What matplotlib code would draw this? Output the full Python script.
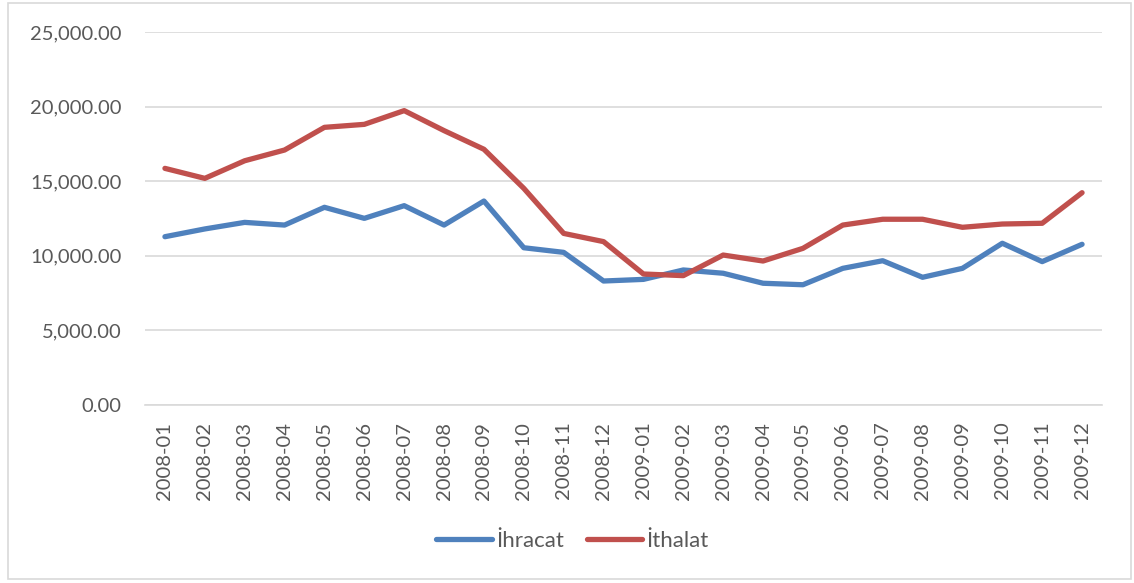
import matplotlib
matplotlib.use("Agg")
import matplotlib.pyplot as plt
from matplotlib.patches import Rectangle
from matplotlib.ticker import FuncFormatter

# monthly values
months = ["2008-01", "2008-02", "2008-03", "2008-04", "2008-05", "2008-06",
          "2008-07", "2008-08", "2008-09", "2008-10", "2008-11", "2008-12",
          "2009-01", "2009-02", "2009-03", "2009-04", "2009-05", "2009-06",
          "2009-07", "2009-08", "2009-09", "2009-10", "2009-11", "2009-12"]
ihracat = [11280, 11800, 12240, 12060, 13250, 12510, 13360, 12060, 13670, 10540, 10230, 8310,
           8420, 9050, 8830, 8160, 8060, 9160, 9670, 8560, 9160, 10840, 9610, 10770]
ithalat = [15860, 15190, 16370, 17090, 18610, 18810, 19730, 18390, 17140, 14520, 11500, 10950,
           8780, 8670, 10050, 9650, 10500, 12060, 12450, 12450, 11910, 12130, 12180, 14230]

text_col = "#595959"
grid_col = "#D9D9D9"
plt.rcParams["font.family"] = ["Lato", "DejaVu Sans"]

fig = plt.figure(figsize=(11.34, 5.83), dpi=100)
ax = fig.add_axes([145 / 1134, 1 - 405 / 583, (1102 - 145) / 1134, (405 - 32) / 583])

x = list(range(len(months)))
ax.plot(x, ihracat, color="#4F81BD", lw=3.8, solid_capstyle="round", label="İhracat")
ax.plot(x, ithalat, color="#C0504D", lw=3.8, solid_capstyle="round", label="İthalat")

ax.set_xlim(-0.5, len(months) - 0.5)
ax.set_ylim(0, 25000)
ax.set_yticks(range(0, 25001, 5000))
ax.yaxis.set_major_formatter(FuncFormatter(lambda v, p: f"{v:,.2f}"))
ax.set_xticks(x)
ax.set_xticklabels(months, rotation=90)
ax.grid(axis="y", color=grid_col, lw=1.2)
ax.set_axisbelow(True)
for s in ["top", "right", "left"]:
    ax.spines[s].set_visible(False)
ax.spines["bottom"].set_color(grid_col)
ax.spines["bottom"].set_linewidth(1.2)
ax.tick_params(axis="both", length=0, colors=text_col, labelsize=14.5)
ax.tick_params(axis="y", pad=17)
ax.tick_params(axis="x", pad=12)

leg = fig.legend(loc="center", bbox_to_anchor=(0.505, 1 - 541 / 583), ncol=2, frameon=False,
                 fontsize=16, handlelength=2.5, handletextpad=0.2, columnspacing=1.0)
for t in leg.get_texts():
    t.set_color(text_col)

# outer chart border
fig.patches.append(Rectangle((8 / 1134, 1 - 579 / 583), (1131 - 8) / 1134, (579 - 3) / 583,
                             transform=fig.transFigure, fill=False, ec=grid_col, lw=1.2))

fig.savefig("out.png", dpi=100)
